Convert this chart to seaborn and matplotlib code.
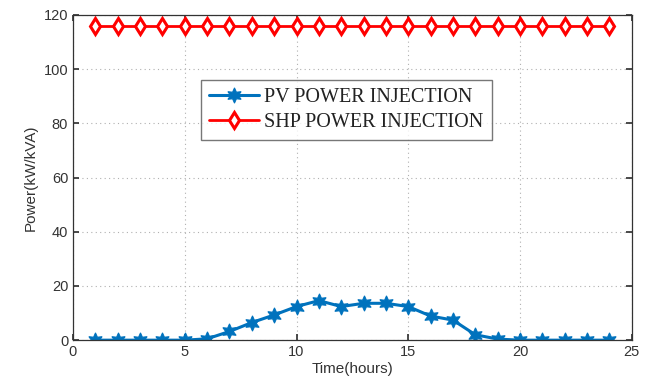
import numpy as np
import pandas as pd
import matplotlib
matplotlib.use("Agg")
import matplotlib.pyplot as plt
import seaborn as sns

hours = list(range(1, 25))
pv_power = [0, 0, 0, 0, 0, 0.5, 3.2, 6.5, 9.3, 12.4, 14.6, 12.4, 13.6, 13.6, 12.4, 8.9, 7.4, 2.0, 0.4, 0, 0, 0, 0, 0]
shp_power = [116] * 24
series_names = ["PV POWER INJECTION", "SHP POWER INJECTION"]

sns.set_theme(style="white")
plt.rcParams['font.family'] = ['Liberation Sans', 'DejaVu Sans']

fig = plt.figure(figsize=(6.46, 3.91), dpi=100)
ax = fig.add_axes([0.113, 0.130, 0.865, 0.832])

df_pv = pd.DataFrame({"Time": hours, "Power": pv_power})
df_shp = pd.DataFrame({"Time": hours, "Power": shp_power})

sns.lineplot(data=df_pv, x="Time", y="Power", ax=ax, color="#0072BD", lw=2.2,
             marker=(6, 1, 0), markersize=11, markeredgecolor="#0072BD",
             label=series_names[0])
sns.lineplot(data=df_shp, x="Time", y="Power", ax=ax, color="#FF0000", lw=2.0,
             marker="d", markersize=8.5, markerfacecolor="white", markeredgecolor="#FF0000",
             markeredgewidth=2.2, label=series_names[1])

ax.set_xlim(0, 25)
ax.set_ylim(0, 120)
ax.set_xticks([0, 5, 10, 15, 20, 25])
ax.set_yticks([0, 20, 40, 60, 80, 100, 120])
ax.grid(True, linestyle=(0, (1, 3)), color="#b0b0b0", lw=0.8)
for s in ax.spines.values():
    s.set_visible(True)
    s.set_color("#333333")
    s.set_linewidth(0.9)
ax.tick_params(direction="in", length=4, colors="#333333", labelsize=10.5, labelcolor="#333333",
               top=True, right=True, bottom=True, left=True)
ax.set_xlabel("Time(hours)", fontsize=11, color="#333333", labelpad=2)
ax.set_ylabel("Power(kW/kVA)", fontsize=11, color="#333333", labelpad=4)

leg = ax.legend(loc="upper left", bbox_to_anchor=(0.229, 0.80), borderaxespad=0, frameon=True,
                fancybox=False, prop={"family": "Liberation Serif", "size": 14.5}, borderpad=0.4,
                labelspacing=0.3, handlelength=2.5, handletextpad=0.25)
leg.get_frame().set_edgecolor("#555555")
leg.get_frame().set_linewidth(1.0)
for t in leg.get_texts():
    t.set_color("#222222")

fig.savefig("out.png", dpi=100)
